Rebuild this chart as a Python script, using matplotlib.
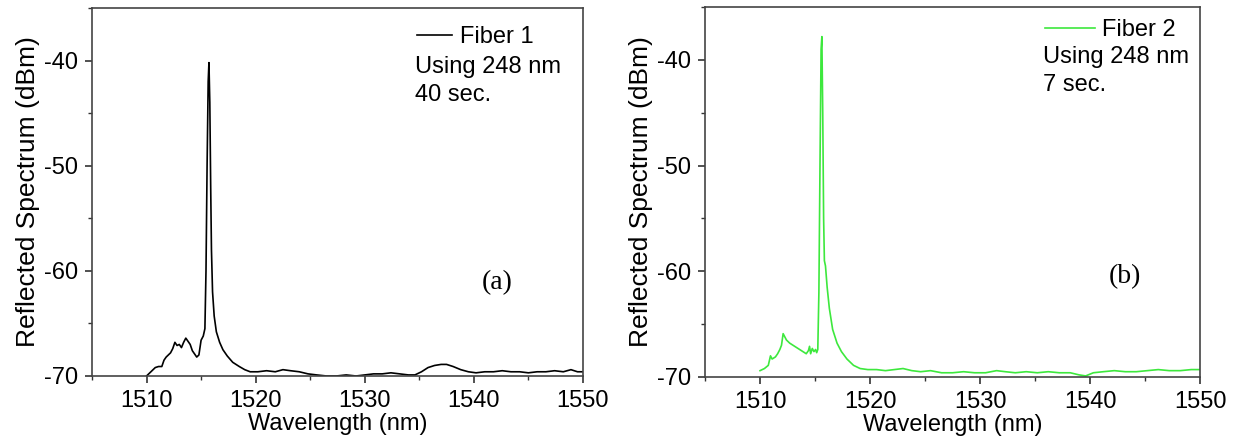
import matplotlib
matplotlib.use('Agg')
import matplotlib.pyplot as plt
from matplotlib.ticker import MultipleLocator

plt.rcParams['font.family'] = ['Liberation Sans', 'DejaVu Sans']
plt.rcParams['axes.unicode_minus'] = False

# Fiber 1 (40 sec. exposure)
wl1 = [1510.0, 1510.4, 1510.8, 1511.1, 1511.4, 1511.6, 1511.8, 1512.0, 1512.2, 1512.4,
       1512.6, 1512.8, 1513.0, 1513.2, 1513.4, 1513.6, 1513.8, 1514.0, 1514.2, 1514.4,
       1514.6, 1514.8, 1515.0, 1515.2, 1515.35, 1515.45, 1515.55, 1515.65, 1515.72,
       1515.8, 1515.88, 1515.95, 1516.05, 1516.2, 1516.4, 1516.7, 1517.0, 1517.4,
       1517.9, 1518.5, 1519.0, 1519.5, 1520.2, 1521.0, 1521.8, 1522.5, 1523.2, 1524.0,
       1524.8, 1525.6, 1526.5, 1527.4, 1528.3, 1529.2, 1530.0, 1530.8, 1531.6, 1532.4,
       1533.2, 1534.0, 1534.6, 1535.2, 1535.8, 1536.4, 1537.0, 1537.5, 1538.1, 1538.8,
       1539.5, 1540.2, 1541.0, 1541.8, 1542.6, 1543.4, 1544.2, 1545.0, 1545.8, 1546.6,
       1547.4, 1548.2, 1548.9, 1549.5, 1550.0]
p1 = [-70.0, -69.6, -69.2, -69.1, -69.1, -68.5, -68.2, -68.0, -67.8, -67.4,
      -66.8, -67.1, -67.0, -67.3, -66.8, -66.4, -66.7, -67.0, -67.6, -67.9,
      -68.2, -68.0, -66.6, -66.2, -65.5, -60.0, -50.0, -42.0, -40.2,
      -44.0, -52.0, -58.0, -62.0, -64.3, -65.8, -66.8, -67.5, -68.1,
      -68.7, -69.1, -69.4, -69.6, -69.6, -69.5, -69.6, -69.4, -69.5, -69.6,
      -69.8, -69.9, -70.0, -70.0, -69.9, -70.0, -69.9, -69.8, -69.8, -69.7,
      -69.8, -69.9, -69.9, -69.6, -69.2, -69.0, -68.9, -68.9, -69.1, -69.4,
      -69.6, -69.7, -69.6, -69.6, -69.5, -69.6, -69.6, -69.7, -69.6, -69.6,
      -69.5, -69.6, -69.4, -69.6, -69.6]

# Fiber 2 (7 sec. exposure)
wl2 = [1510.0, 1510.4, 1510.75, 1510.95, 1511.1, 1511.4, 1511.6, 1511.8, 1511.95, 1512.1,
       1512.25, 1512.4, 1512.7, 1513.0, 1513.3, 1513.6, 1513.9, 1514.2, 1514.4, 1514.5,
       1514.6, 1514.75, 1514.9, 1515.05, 1515.15, 1515.25, 1515.35, 1515.45, 1515.55,
       1515.62, 1515.7, 1515.78, 1515.85, 1515.95, 1516.1, 1516.3, 1516.6, 1517.0,
       1517.4, 1517.9, 1518.5, 1519.1, 1519.8, 1520.6, 1521.4, 1522.2, 1523.0, 1523.8,
       1524.6, 1525.5, 1526.5, 1527.5, 1528.5, 1529.5, 1530.5, 1531.5, 1532.3, 1533.2,
       1534.2, 1535.2, 1536.2, 1537.2, 1538.2, 1539.0, 1539.6, 1540.3, 1541.2, 1542.2,
       1543.2, 1544.2, 1545.2, 1546.2, 1547.2, 1548.2, 1549.2, 1550.0]
p2 = [-69.4, -69.2, -68.9, -68.0, -68.3, -68.1, -67.8, -67.4, -67.0, -65.9,
      -66.2, -66.5, -66.8, -67.0, -67.2, -67.4, -67.6, -67.8, -67.5, -67.1,
      -67.8, -67.3, -67.6, -67.4, -67.7, -67.4, -62.0, -50.0, -39.0,
      -37.8, -45.0, -55.0, -59.0, -59.5, -61.5, -63.5, -65.5, -66.8,
      -67.6, -68.3, -68.9, -69.2, -69.3, -69.3, -69.4, -69.3, -69.2, -69.4,
      -69.5, -69.4, -69.6, -69.6, -69.5, -69.6, -69.6, -69.4, -69.5, -69.6,
      -69.5, -69.6, -69.5, -69.6, -69.6, -69.8, -69.9, -69.6, -69.5, -69.4,
      -69.5, -69.5, -69.4, -69.3, -69.4, -69.4, -69.3, -69.3]

xticks = [1510, 1520, 1530, 1540, 1550]
yticks = [-70, -60, -50, -40]

fig = plt.figure(figsize=(12.33, 4.4), dpi=100)
axA = fig.add_axes([0.0746, 0.1455, 0.3982, 0.8365])
axB = fig.add_axes([0.5718, 0.1432, 0.4015, 0.8409])

# (axes, x, y, colour, name, exposure, tag, text x, text ys, tag pos, handle length)
panels = [
    (axA, wl1, p1, 'black', 'Fiber 1', '40 sec.', '(a)', 0.658, (0.921, 0.840, 0.764), (0.825, 0.253), 1.5),
    (axB, wl2, p2, '#3de83d', 'Fiber 2', '7 sec.', '(b)', 0.683, (0.938, 0.865, 0.789), (0.848, 0.27), 2.1),
]

for ax, x, y, col, name, dur, tag, tx, tys, tpos, hl in panels:
    ax.plot(x, y, color=col, lw=1.2, label=name)
    ax.set_xlim(1505, 1550)
    ax.set_ylim(-70, -35)
    ax.set_xticks(xticks)
    ax.set_yticks(yticks)
    ax.xaxis.set_minor_locator(MultipleLocator(5))
    ax.yaxis.set_minor_locator(MultipleLocator(5))
    ax.tick_params(which='major', direction='out', length=5, width=1.2,
                   labelsize=17, color='#333333', pad=5)
    ax.tick_params(which='minor', direction='out', length=3, width=1.0, color='#333333')
    for s in ax.spines.values():
        s.set_color('#444444')
        s.set_linewidth(1.2)
    ax.set_xlabel('Wavelength (nm)', fontsize=17, labelpad=1)
    ax.set_ylabel('Reflected Spectrum (dBm)', fontsize=19, labelpad=3)
    ax.legend(loc='center left', bbox_to_anchor=(tx + 0.004, tys[0]), frameon=False,
              fontsize=17, handlelength=hl, handletextpad=0.3,
              borderpad=0, borderaxespad=0)
    ax.text(tx, tys[1], 'Using 248 nm', transform=ax.transAxes,
            fontsize=17, va='center', ha='left')
    ax.text(tx, tys[2], dur, transform=ax.transAxes,
            fontsize=17, va='center', ha='left')
    ax.text(tpos[0], tpos[1], tag, transform=ax.transAxes, fontsize=20,
            ha='center', va='center', family=['Liberation Serif', 'DejaVu Serif'])

fig.savefig('out.png', dpi=100)
